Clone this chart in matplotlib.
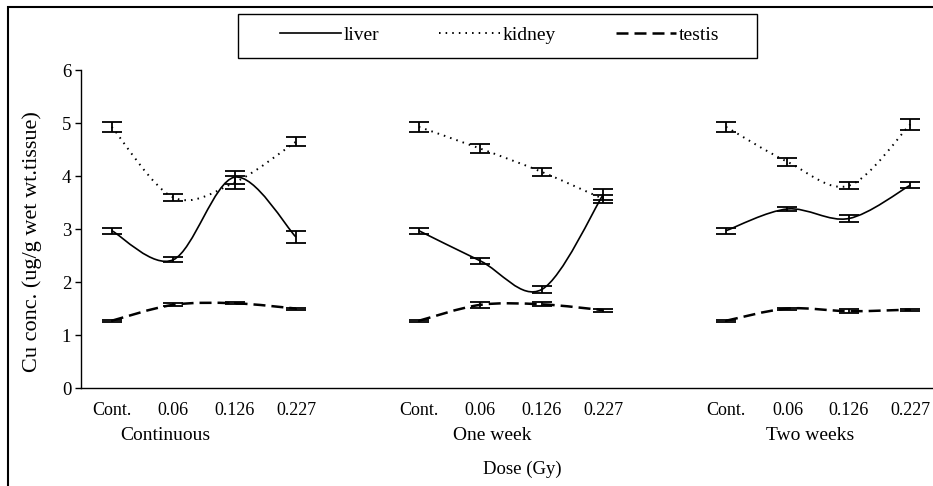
import numpy as np
import matplotlib
matplotlib.use('Agg')
import matplotlib.pyplot as plt
from matplotlib.path import Path
from matplotlib.patches import PathPatch, Rectangle
from matplotlib.lines import Line2D

plt.rcParams['font.family'] = ['Liberation Serif', 'DejaVu Serif']

# Datos
grupos = ['Continuous', 'One week', 'Two weeks']
dosis = ['Cont.', '0.06', '0.126', '0.227']

liver = [2.97, 2.42, 3.98, 2.85, 2.97, 2.40, 1.86, 3.65, 2.97, 3.38, 3.20, 3.83]
liver_err = [0.06, 0.05, 0.12, 0.12, 0.06, 0.05, 0.07, 0.10, 0.06, 0.04, 0.07, 0.06]
kidney = [4.93, 3.60, 3.88, 4.65, 4.93, 4.52, 4.08, 3.57, 4.93, 4.27, 3.82, 4.98]
kidney_err = [0.10, 0.07, 0.12, 0.08, 0.10, 0.08, 0.08, 0.07, 0.10, 0.08, 0.06, 0.10]
testis = [1.27, 1.57, 1.60, 1.50, 1.27, 1.57, 1.58, 1.47, 1.27, 1.50, 1.45, 1.48]
testis_err = [0.02, 0.03, 0.02, 0.02, 0.02, 0.05, 0.04, 0.03, 0.02, 0.02, 0.04, 0.02]

pos_grupo = [0.88, 6.2, 11.37]


def curva_suave(ax, x, y, **kw):
    # bezier tipo Excel (suavizado)
    verts = [(x[0], y[0])]
    codes = [Path.MOVETO]
    n = len(x)
    for i in range(n - 1):
        i0 = max(i - 1, 0)
        i3 = min(i + 2, n - 1)
        c1 = (x[i] + (x[i + 1] - x[i0]) / 6, y[i] + (y[i + 1] - y[i0]) / 6)
        c2 = (x[i + 1] - (x[i3] - x[i]) / 6, y[i + 1] - (y[i3] - y[i]) / 6)
        verts += [c1, c2, (x[i + 1], y[i + 1])]
        codes += [Path.CURVE4] * 3
    ax.add_patch(PathPatch(Path(verts, codes), fill=False, **kw))


fig = plt.figure(figsize=(9.33, 4.86), dpi=100)
ax = fig.add_axes([0.0868, 0.2016, 0.9218, 0.654])

x = np.array([g * 5 + d for g in range(3) for d in range(4)], dtype=float)

estilos = [
    (liver, liver_err, dict(lw=1.2, linestyle='-')),
    (kidney, kidney_err, dict(lw=1.4, linestyle=(0, (0.8, 2.6)))),
    (testis, testis_err, dict(lw=1.8, linestyle=(0, (4.8, 2.4)))),
]
for vals, errs, st in estilos:
    vals = np.array(vals)
    for g in range(3):
        sl = slice(g * 4, g * 4 + 4)
        curva_suave(ax, x[sl], vals[sl], edgecolor='black', **st)
    ax.errorbar(x, vals, yerr=errs, fmt='none', ecolor='black',
                elinewidth=1.3, capsize=7, capthick=1.3)

ax.set_xlim(-0.5, 13.5)
ax.set_ylim(0, 6)
ax.set_yticks(range(7))
ax.tick_params(axis='y', direction='out', length=4, width=1, labelsize=13.5, pad=3)
ax.set_xticks(x)
ax.set_xticklabels(dosis * 3)
ax.tick_params(axis='x', length=0, labelsize=13, pad=10)
for s in ['top', 'right']:
    ax.spines[s].set_visible(False)
ax.spines['left'].set_linewidth(1)
ax.spines['bottom'].set_linewidth(1)

for gx, nombre in zip(pos_grupo, grupos):
    ax.text(gx, -0.15, nombre, transform=ax.get_xaxis_transform(),
            ha='center', va='center', fontsize=14)
ax.text(6.68, -0.255, 'Dose (Gy)', transform=ax.get_xaxis_transform(),
        ha='center', va='center', fontsize=13.5)

ax.set_ylabel('Cu conc. (ug/g wet wt.tissue)', fontsize=16)
ax.yaxis.set_label_coords(-0.045, 0.46)

handles = [
    Line2D([], [], color='black', lw=1.2, linestyle='-'),
    Line2D([], [], color='black', lw=1.4, linestyle=(0, (0.8, 2.6))),
    Line2D([], [], color='black', lw=1.8, linestyle=(0, (4.8, 2.4))),
]
leg = fig.legend(handles, ['liver', 'kidney', 'testis'], ncol=3,
                 loc='center', bbox_to_anchor=(500 / 933, 1 - 35 / 486),
                 fontsize=14, frameon=False, handlelength=3.1,
                 handletextpad=0.15, columnspacing=3.1, borderpad=0)

# caja de la leyenda y marco exterior
fig.patches.append(Rectangle((238 / 933, 1 - 58 / 486), 519 / 933, 44 / 486,
                             transform=fig.transFigure, fill=False,
                             edgecolor='black', lw=1.0))
fig.patches.append(Rectangle((8 / 933, -0.05), 1.1, 1 - 7 / 486 + 0.05,
                             transform=fig.transFigure, fill=False,
                             edgecolor='black', lw=1.5))

fig.savefig('out.png', dpi=100)
